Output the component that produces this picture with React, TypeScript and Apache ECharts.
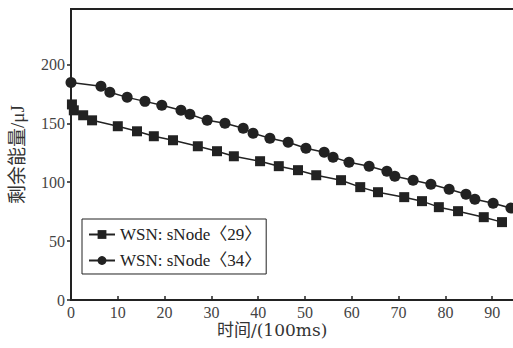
import React, { useEffect, useRef } from "react";
import * as echarts from "echarts";

const seriesNames = ["WSN: sNode〈29〉", "WSN: sNode〈34〉"];

const node29X = [0.2, 0.6, 2.6, 4.5, 10.0, 14.1, 17.7, 21.8, 27.1, 31.2, 34.8, 40.4, 44.4, 48.5, 52.4, 57.7, 61.8, 65.6, 71.2, 75.0, 78.6, 82.7, 88.2, 92.1];
const node29Y = [166, 161, 156.8, 152.5, 147.5, 143.2, 139, 135.6, 130.5, 126.3, 122, 117.8, 113.6, 110.2, 105.9, 101.7, 95.8, 91.5, 87.3, 83.9, 78.8, 75.4, 70.3, 66.1];

const node34X = [0, 6.4, 8.3, 12.0, 15.8, 19.4, 23.5, 25.4, 29.1, 32.9, 36.8, 38.9, 42.5, 46.4, 50.2, 54.1, 56.0, 59.4, 63.7, 67.5, 69.2, 73.1, 76.9, 80.8, 84.4, 86.3, 90.2, 94.0];
const node34Y = [184.7, 181.4, 176.3, 172, 168.6, 165.3, 161, 157.6, 152.5, 150, 145.8, 141.5, 137.3, 133.9, 128.8, 125.4, 121.2, 117, 113.6, 109.3, 105.1, 101.7, 98.3, 94, 89.8, 85.6, 82.2, 78];

const yTicks = [0, 50, 100, 150, 200];
const xTicks = [0, 10, 20, 30, 40, 50, 60, 70, 80, 90];

const yAxisTitle = "剩余能量/μJ";
const xAxisTitle = "时间/(100ms)";

const serif = "'Liberation Serif', 'DejaVu Serif', 'Noto Sans CJK SC', serif";
const wideSerif = "'DejaVu Serif', 'Liberation Serif', 'Noto Sans CJK SC', serif";

export default function App() {
  const ref = useRef<HTMLDivElement>(null);
  useEffect(() => {
    if (!ref.current) return;
    const chart = echarts.init(ref.current, undefined, { renderer: "svg" });
    const zip = (xs: number[], ys: number[]) => xs.map((x, i) => [x, ys[i]]);
    chart.setOption({
      animation: false,
      backgroundColor: "#fff",
      grid: {
        left: 71,
        top: 9,
        bottom: 48,
        right: -26,
        show: true,
        borderColor: "#222",
        borderWidth: 2,
        containLabel: false,
        outerBoundsMode: "none",
      },
      xAxis: {
        type: "value",
        min: 0,
        max: 100,
        interval: 10,
        splitLine: { show: false },
        axisLine: { lineStyle: { color: "#222", width: 2 } },
        axisTick: { inside: true, length: 4, lineStyle: { color: "#222", width: 1.5 } },
        axisLabel: {
          color: "#444",
          fontFamily: serif,
          fontSize: 16,
          margin: 4,
          formatter: (v: number) => (xTicks.includes(v) ? String(v) : ""),
        },
      },
      yAxis: {
        type: "value",
        min: 0,
        max: 247,
        interval: 50,
        splitLine: { show: false },
        axisLine: { lineStyle: { color: "#222", width: 2 } },
        axisTick: { inside: false, length: 4, lineStyle: { color: "#222", width: 1.5 } },
        axisLabel: {
          color: "#444",
          fontFamily: serif,
          fontSize: 16,
          margin: 6,
          showMaxLabel: false,
          formatter: (v: number) => (yTicks.includes(v) ? String(v) : ""),
        },
        name: yAxisTitle,
        nameLocation: "middle",
        nameGap: 44,
        nameRotate: 90,
        nameTextStyle: { color: "#333", fontFamily: serif, fontSize: 19 },
      },
      legend: {
        orient: "vertical",
        left: 82,
        top: 219,
        padding: [7, 5, 5, 6],
        itemGap: 9,
        itemWidth: 26,
        itemHeight: 11,
        borderColor: "#222",
        borderWidth: 1,
        backgroundColor: "#fff",
        textStyle: { color: "#222", fontFamily: serif, fontSize: 17 },
        data: seriesNames,
      },
      graphic: [
        {
          type: "text",
          left: 217,
          top: 321,
          style: { text: xAxisTitle, fill: "#333", font: `17px ${wideSerif}` },
        },
      ],
      series: [
        {
          name: seriesNames[0],
          type: "line",
          data: zip(node29X, node29Y),
          symbol: "rect",
          symbolSize: 10,
          itemStyle: { color: "#222" },
          lineStyle: { color: "#222", width: 1.5 },
        },
        {
          name: seriesNames[1],
          type: "line",
          data: zip(node34X, node34Y),
          symbol: "circle",
          symbolSize: 11,
          itemStyle: { color: "#222" },
          lineStyle: { color: "#222", width: 1.5 },
        },
      ],
    });
    return () => chart.dispose();
  }, []);
  return (
    <div
      ref={ref}
      style={{ position: "fixed", left: 0, top: 0, width: 513, height: 348, background: "#fff" }}
    />
  );
}
